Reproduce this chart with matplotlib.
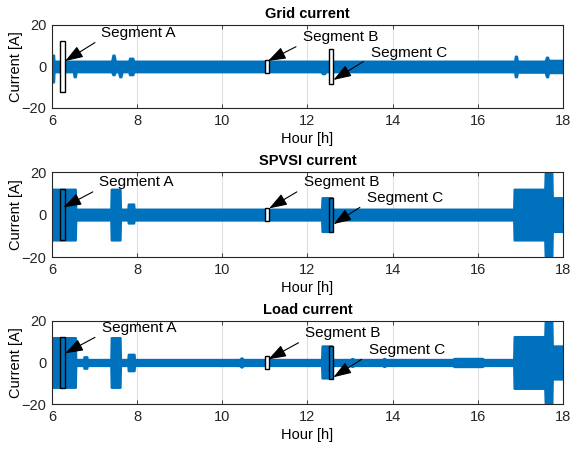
import numpy as np
import matplotlib
matplotlib.use("Agg")
import matplotlib.pyplot as plt
from matplotlib.patches import Rectangle

plt.rcParams['font.family'] = ['Liberation Sans', 'DejaVu Sans']

# envelope of the measured currents (hours, upper / lower peak in A)
grid_hours = [6.00, 6.04, 6.05, 6.50, 6.52, 6.55, 6.57, 7.40, 7.43, 7.46, 7.49,
              7.56, 7.59, 7.62, 7.65, 7.80, 7.82, 7.90, 7.92, 12.32, 12.35, 12.40, 12.43,
              16.86, 16.88, 16.91, 16.93, 17.58, 17.61, 17.64, 17.66, 18.00]
grid_upper = [5.5, 5.5, 2.6, 2.6, 2.6, 2.6, 2.6, 2.6, 5.5, 5.5, 2.6,
              2.6, 2.6, 2.6, 2.6, 2.6, 4.0, 4.0, 2.6, 2.6, 2.6, 2.6, 2.6,
              2.6, 5.0, 5.0, 2.6, 2.6, 4.5, 4.5, 3.0, 3.0]
grid_lower = [-7.5, -7.5, -2.6, -2.6, -5.0, -5.0, -2.6, -2.6, -4.0, -4.0, -2.6,
              -2.6, -5.0, -5.0, -2.6, -2.6, -4.0, -4.0, -2.6, -2.6, -3.5, -3.5, -2.6,
              -2.6, -5.0, -5.0, -2.8, -2.8, -5.0, -5.0, -3.0, -3.0]

spvsi_hours = [6.00, 6.55, 6.56, 7.38, 7.39, 7.60, 7.61, 7.78, 7.79, 7.92, 7.93,
               12.33, 12.34, 12.58, 12.59, 16.84, 16.85, 17.57, 17.58, 17.74, 17.75, 18.00]
spvsi_upper = [12.0, 12.0, 2.6, 2.6, 12.0, 12.0, 2.6, 2.6, 5.0, 5.0, 2.6,
               2.6, 8.0, 8.0, 2.6, 2.6, 12.0, 12.0, 19.5, 19.5, 8.0, 8.0]
spvsi_lower = [-12.0, -12.0, -2.6, -2.6, -12.0, -12.0, -2.6, -2.6, -4.0, -4.0, -2.6,
               -2.6, -8.0, -8.0, -2.6, -2.6, -12.0, -12.0, -19.5, -19.5, -8.0, -8.0]

load_hours = [6.00, 6.55, 6.56, 6.74, 6.75, 6.82, 6.83, 7.38, 7.39, 7.60, 7.61,
              7.78, 7.79, 7.93, 7.94, 10.40, 10.45, 10.50, 12.33, 12.34, 12.57, 12.58,
              13.00, 13.05, 13.10, 13.75, 13.80, 13.85, 15.40, 15.45, 16.10, 16.15,
              16.84, 16.85, 17.57, 17.58, 17.74, 17.75, 18.00]
load_upper = [12.0, 12.0, 1.5, 1.5, 2.8, 2.8, 1.5, 1.5, 12.0, 12.0, 1.5,
              1.5, 4.0, 4.0, 1.5, 1.5, 2.3, 1.5, 1.5, 8.0, 8.0, 1.5,
              1.5, 2.0, 1.5, 1.5, 2.0, 1.5, 1.5, 2.0, 2.0, 1.5,
              1.5, 12.5, 12.5, 19.5, 19.5, 8.0, 8.0]
load_lower = [-12.0, -12.0, -1.5, -1.5, -2.8, -2.8, -1.5, -1.5, -12.0, -12.0, -1.5,
              -1.5, -4.0, -4.0, -1.5, -1.5, -2.3, -1.5, -1.5, -7.5, -7.5, -1.5,
              -1.5, -2.0, -1.5, -1.5, -2.0, -1.5, -1.5, -2.0, -2.0, -1.5,
              -1.5, -12.5, -12.5, -19.5, -19.5, -8.0, -8.0]

titles = ['Grid current', 'SPVSI current', 'Load current']

# segments: start/end hour and half-height of the box in each panel
seg_names = ['Segment A', 'Segment B', 'Segment C']
seg_start = [6.2, 11.0, 12.5]
seg_end = [6.3, 11.1, 12.6]
seg_half = [[12.3, 3.0, 8.3], [12.0, 3.0, 8.0], [12.4, 3.0, 8.0]]

# arrow tip, text anchor, arrow tail per panel per segment
tips = [[(6.31, 2.6), (11.07, 2.6), (12.61, -6.5)],
        [(6.27, 3.4), (11.10, 2.9), (12.61, -4.5)],
        [(6.31, 4.4), (11.08, 1.5), (12.61, -7.1)]]
labels_at = [[(7.15, 16.1), (11.89, 14.4), (13.48, 6.4)],
             [(7.10, 15.4), (11.92, 15.4), (13.40, 7.6)],
             [(7.17, 16.5), (11.94, 14.0), (13.45, 6.0)]]
tails = [[(7.01, 11.5), (11.73, 9.5), (13.31, 2.3)],
         [(6.96, 10.7), (11.75, 10.7), (13.23, 3.4)],
         [(7.01, 12.1), (11.79, 9.5), (13.27, 1.5)]]

series = [(grid_hours, grid_upper, grid_lower),
          (spvsi_hours, spvsi_upper, spvsi_lower),
          (load_hours, load_upper, load_lower)]

blue = '#0072BD'
edge = '#262626'

fig = plt.figure(figsize=(5.71, 4.49), dpi=100)
bottoms = [0.7595, 0.4276, 0.1002]
heights = [0.185, 0.189, 0.185]

for i, (hrs, up, lo) in enumerate(series):
    ax = fig.add_axes([0.091, bottoms[i], 0.895, heights[i]])
    ax.fill_between(hrs, lo, up, color=blue, edgecolor=blue, linewidth=1.5,
                    joinstyle='round', zorder=2)
    ax.set_xlim(6, 18)
    ax.set_ylim(-20, 20)
    ax.set_xticks([6, 8, 10, 12, 14, 16, 18])
    ax.set_yticks([-20, 0, 20])
    ax.grid(True, color='#dfdfdf', linewidth=0.8, zorder=0)
    ax.set_axisbelow(True)
    ax.tick_params(direction='in', length=3, width=0.6, colors=edge,
                   top=True, right=True, labelsize=10.5, pad=4)
    for sp in ax.spines.values():
        sp.set_color(edge)
        sp.set_linewidth(0.8)
    ax.set_title(titles[i], fontsize=10.5, fontweight='bold', pad=5)
    ax.set_xlabel('Hour [h]', fontsize=10.5, labelpad=3)
    ax.set_ylabel('Current [A]', fontsize=10.5, labelpad=-1)

    for j in range(3):
        h = seg_half[i][j]
        fill = (i == 0) or (j == 1)
        ax.add_patch(Rectangle((seg_start[j], -h), seg_end[j] - seg_start[j], 2 * h,
                               facecolor='white' if fill else 'none',
                               edgecolor='black', linewidth=1.0, zorder=3))
        ax.annotate('', xy=tips[i][j], xytext=tails[i][j],
                    arrowprops=dict(arrowstyle='-|>,head_length=1.1,head_width=0.38',
                                    mutation_scale=10, color='black', linewidth=0.8,
                                    shrinkA=0, shrinkB=0),
                    zorder=4)
        ax.text(labels_at[i][j][0], labels_at[i][j][1], seg_names[j], fontsize=11,
                ha='left', va='center', zorder=4)

fig.savefig('out.png', dpi=100)
